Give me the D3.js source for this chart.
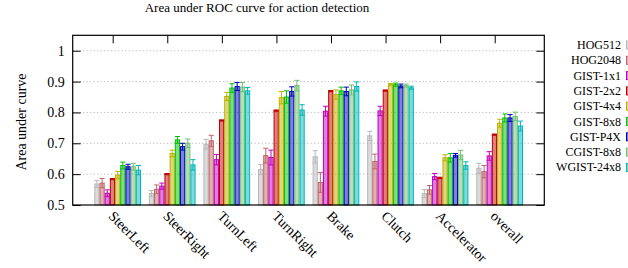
<!DOCTYPE html>
<html>
<head>
<meta charset="utf-8">
<script src="https://d3js.org/d3.v7.min.js"></script>
<style>
  body { margin: 0; background: #fff; }
</style>
</head>
<body>
<div id="chart"></div>
<script>
const categories = ["SteerLeft", "SteerRight", "TurnLeft", "TurnRight", "Brake", "Clutch", "Accelerator", "overall"];
const seriesNames = ["HOG512", "HOG2048", "GIST-1x1", "GIST-2x2", "GIST-4x4", "GIST-8x8", "GIST-P4X", "CGIST-8x8", "WGIST-24x8"];
const seriesColors = ["#b8b8b8", "#c06464", "#c000c0", "#c00000", "#c0b000", "#00c000", "#0000c0", "#70c070", "#00b8b8"];

const hog512 = [0.568, 0.537, 0.697, 0.615, 0.656, 0.724, 0.537, 0.619];
const hog2048 = [0.571, 0.551, 0.708, 0.660, 0.573, 0.641, 0.549, 0.608];
const gist1x1 = [0.538, 0.561, 0.647, 0.654, 0.804, 0.805, 0.592, 0.659];
const gist2x2 = [0.584, 0.600, 0.774, 0.806, 0.869, 0.871, 0.588, 0.728];
const gist4x4 = [0.597, 0.667, 0.852, 0.848, 0.858, 0.890, 0.653, 0.765];
const gist8x8 = [0.628, 0.711, 0.879, 0.850, 0.870, 0.890, 0.653, 0.782];
const gistP4x = [0.624, 0.689, 0.884, 0.868, 0.868, 0.886, 0.661, 0.782];
const cgist8x8 = [0.624, 0.700, 0.882, 0.887, 0.873, 0.887, 0.662, 0.787];
const wgist24x8 = [0.613, 0.630, 0.870, 0.808, 0.884, 0.880, 0.628, 0.756];

const err512 = [0.011, 0.010, 0.016, 0.016, 0.020, 0.015, 0.013, 0.016];
const err2048 = [0.015, 0.014, 0.018, 0.024, 0.032, 0.024, 0.014, 0.020];
const err1x1 = [0.011, 0.010, 0.017, 0.024, 0.016, 0.015, 0.010, 0.014];
const err2x2 = [0.002, 0.002, 0.002, 0.002, 0.002, 0.002, 0.002, 0.002];
const err4x4 = [0.012, 0.011, 0.013, 0.020, 0.015, 0.004, 0.010, 0.013];
const err8x8 = [0.011, 0.011, 0.014, 0.020, 0.012, 0.005, 0.014, 0.013];
const errP4x = [0.008, 0.011, 0.013, 0.015, 0.014, 0.006, 0.006, 0.011];
const errC8x8 = [0.011, 0.014, 0.015, 0.017, 0.016, 0.005, 0.015, 0.014];
const errW24x8 = [0.015, 0.017, 0.011, 0.017, 0.015, 0.005, 0.012, 0.016];

const yTicks = [0.5, 0.6, 0.7, 0.8, 0.9, 1];

const values = [hog512, hog2048, gist1x1, gist2x2, gist4x4, gist8x8, gistP4x, cgist8x8, wgist24x8];
const errors = [err512, err2048, err1x1, err2x2, err4x4, err8x8, errP4x, errC8x8, errW24x8];

const FONT = "'Liberation Serif', 'Times New Roman', serif";
const width = 628, height = 268;
const plot = { left: 72.7, right: 544.3, top: 35.3, bottom: 205 };

const svg = d3.select("#chart").append("svg")
  .attr("width", width)
  .attr("height", height)
  .style("display", "block");

const x = d3.scaleLinear().domain([-0.733, 7.909]).range([plot.left, plot.right]);
const y = d3.scaleLinear().domain([0.5, 1.05]).range([plot.bottom, plot.top]);
const inner = d3.scaleBand().domain(seriesNames).range([-18.4, 28.3]);

// title
svg.append("text")
  .attr("x", 257).attr("y", 12)
  .attr("text-anchor", "middle")
  .attr("font-family", FONT)
  .attr("font-size", 13)
  .text("Area under ROC curve for action detection");

// grid
svg.append("g").selectAll("line")
  .data(yTicks.filter(d => d > 0.5))
  .join("line")
  .attr("x1", plot.left).attr("x2", plot.right)
  .attr("y1", d => y(d)).attr("y2", d => y(d))
  .attr("stroke", "#999")
  .attr("stroke-width", 0.8)
  .attr("stroke-dasharray", "1,2.5");

// bars
const bars = [];
values.forEach((vals, s) => vals.forEach((v, c) => bars.push({ s, c, v, e: errors[s][c] })));

svg.append("g").selectAll("rect")
  .data(bars)
  .join("rect")
  .attr("x", d => x(d.c) + inner(seriesNames[d.s]) + 0.5)
  .attr("y", d => y(d.v))
  .attr("width", inner.bandwidth() - 1)
  .attr("height", d => y(0.5) - y(d.v))
  .attr("fill", d => seriesColors[d.s])
  .attr("fill-opacity", 0.5)
  .attr("stroke", d => seriesColors[d.s])
  .attr("stroke-width", 1);

// error bars
const errG = svg.append("g");
bars.forEach(d => {
  const cx = x(d.c) + inner(seriesNames[d.s]) + inner.bandwidth() / 2;
  const w = inner.bandwidth() / 2;
  const col = seriesColors[d.s];
  errG.append("line")
    .attr("x1", cx).attr("x2", cx)
    .attr("y1", y(d.v - d.e)).attr("y2", y(d.v + d.e))
    .attr("stroke", col);
  [d.v - d.e, d.v + d.e].forEach(t => {
    errG.append("line")
      .attr("x1", cx - w).attr("x2", cx + w)
      .attr("y1", y(t)).attr("y2", y(t))
      .attr("stroke", col);
  });
});

// frame
svg.append("rect")
  .attr("x", plot.left).attr("y", plot.top)
  .attr("width", plot.right - plot.left)
  .attr("height", plot.bottom - plot.top)
  .attr("fill", "none")
  .attr("stroke", "#000")
  .attr("stroke-width", 1.2);

// y ticks
const yAxisL = d3.axisLeft(y).tickValues(yTicks).tickSize(-8).tickPadding(8).tickFormat(d3.format("~g"));
const yAxisR = d3.axisRight(y).tickValues(yTicks).tickSize(-8).tickFormat("");
const gl = svg.append("g").attr("transform", `translate(${plot.left},0)`).call(yAxisL);
const gr = svg.append("g").attr("transform", `translate(${plot.right},0)`).call(yAxisR);
[gl, gr].forEach(g => {
  g.attr("font-family", FONT).attr("font-size", 14);
  g.select(".domain").remove();
  g.selectAll("line").attr("stroke", "#000");
  g.selectAll("text").attr("fill", "#000");
});

// top x ticks
const xTop = d3.axisTop(x).tickValues(d3.range(categories.length)).tickSize(-8).tickFormat("");
const gt = svg.append("g").attr("transform", `translate(0,${plot.top})`).call(xTop);
gt.select(".domain").remove();
gt.selectAll("line").attr("stroke", "#000");

// x labels
svg.append("g").selectAll("text")
  .data(categories)
  .join("text")
  .attr("transform", (d, i) => `translate(${x(i) - 5},${217}) rotate(45)`)
  .attr("font-family", FONT)
  .attr("font-size", 14)
  .text(d => d);

// y label
svg.append("text")
  .attr("transform", "translate(26,122) rotate(-90)")
  .attr("text-anchor", "middle")
  .attr("font-family", FONT)
  .attr("font-size", 14)
  .text("Area under curve");

// legend
const leg = svg.append("g").selectAll("g")
  .data(seriesNames)
  .join("g")
  .attr("transform", (d, i) => `translate(0,${45 + i * 15.3})`);
leg.append("text")
  .attr("x", 621).attr("y", 4)
  .attr("text-anchor", "end")
  .attr("font-family", FONT)
  .attr("font-size", 12)
  .text(d => d);
leg.append("rect")
  .attr("x", 626.5).attr("y", -4)
  .attr("width", 20).attr("height", 8)
  .attr("fill", (d, i) => seriesColors[i])
  .attr("fill-opacity", 0.5)
  .attr("stroke", (d, i) => seriesColors[i]);
</script>
</body>
</html>
